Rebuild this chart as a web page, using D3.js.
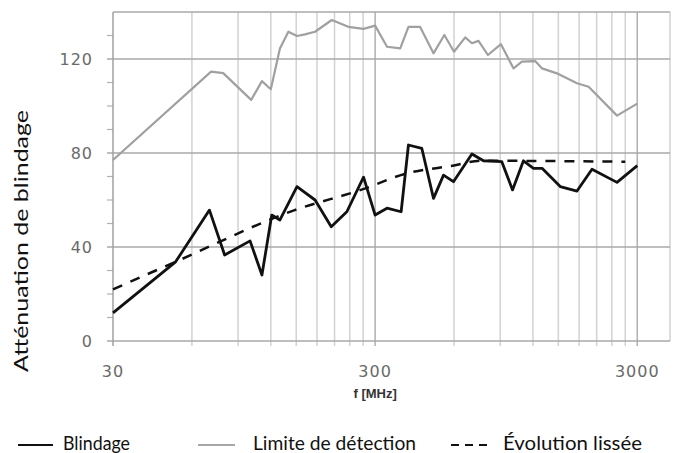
<!DOCTYPE html>
<html>
<head>
<meta charset="utf-8">
<script src="https://cdn.jsdelivr.net/npm/d3@7"></script>
<style>
  body { margin: 0; background: #fff; }
  svg { display: block; }
</style>
</head>
<body>
<div id="chart"></div>
<script>
// Frequencies (MHz) and values (dB)
var shieldFreq = [30, 52, 70, 80, 100, 111, 121, 130, 151, 177, 204, 234, 271, 300, 333, 377, 402, 452, 501, 547, 597, 702, 777, 913, 1003, 1104, 1206, 1300, 1525, 1767, 2016, 2511, 3000];
var shieldVal = [12, 33.7, 55.7, 36.6, 42.6, 28.1, 53.6, 51.5, 65.7, 60, 48.6, 55, 69.7, 53.6, 56.5, 55, 83.4, 82, 60.7, 70.6, 67.8, 79.6, 76.7, 76.3, 64.3, 76.7, 73.5, 73.5, 65.7, 63.8, 73.1, 67.5, 74.6];

var limitFreq = [30, 71, 79, 101, 111, 120, 130, 140, 151, 162, 177, 205, 237, 271, 300, 333, 374, 402, 445, 501, 551, 600, 662, 702, 744, 808, 906, 1012, 1089, 1224, 1300, 1481, 1767, 1957, 2511, 3000];
var limitVal = [77, 114.6, 114, 102.6, 110.6, 107.1, 124.5, 131.6, 129.8, 130.5, 131.6, 136.6, 133.7, 132.8, 134.2, 125.2, 124.5, 133.7, 133.7, 122.4, 130.2, 123.1, 129.2, 126.7, 127.7, 121.7, 126.3, 116, 118.9, 119.1, 116, 113.9, 109.7, 108.2, 95.9, 101];

var trendFreq = [30, 52, 148, 268, 395, 585, 764, 2700];
var trendVal = [22, 33.7, 55.7, 64.5, 71.3, 74.5, 76.7, 76.3];

var xTickLabels = [30, 300, 3000];
var yTickLabels = [0, 40, 80, 120];
var legendLabels = ["Blindage", "Limite de détection", "Évolution lissée"];

var width = 680, height = 453;
var margin = {top: 12, right: 10, bottom: 112, left: 113};

var svg = d3.select("#chart")
  .append("svg")
  .attr("width", width)
  .attr("height", height);

var x = d3.scaleLog().domain([30, 4000]).range([margin.left, width - margin.right]);
var y = d3.scaleLinear().domain([0, 140]).range([height - margin.bottom, margin.top]);

// Grid
var xGrid = d3.range(60, 300, 30).concat(d3.range(600, 3000, 300));
var yMinor = d3.range(10, 140, 10).filter(d => d % 40 != 0);

var grid = svg.append("g");
grid.selectAll(".vminor")
  .data(xGrid)
  .enter().append("line")
  .attr("x1", d => x(d)).attr("x2", d => x(d))
  .attr("y1", y(140)).attr("y2", y(0) + 5)
  .attr("stroke", "#d2d2d2")
  .attr("stroke-width", 1.5);

grid.selectAll(".vmajor")
  .data([300, 3000])
  .enter().append("line")
  .attr("x1", d => x(d)).attr("x2", d => x(d))
  .attr("y1", y(140)).attr("y2", y(0) + 5)
  .attr("stroke", "#b0b0b0")
  .attr("stroke-width", 1.5);

// right border
grid.append("line")
  .attr("x1", x(4000)).attr("x2", x(4000))
  .attr("y1", y(140)).attr("y2", y(0))
  .attr("stroke", "#d2d2d2")
  .attr("stroke-width", 1.5);

grid.selectAll(".hmajor")
  .data(yTickLabels)
  .enter().append("line")
  .attr("x1", x(30) - 6).attr("x2", x(4000))
  .attr("y1", d => y(d)).attr("y2", d => y(d))
  .attr("stroke", "#a8a8a8")
  .attr("stroke-width", 1.5);

grid.append("line")
  .attr("x1", x(30)).attr("x2", x(4000))
  .attr("y1", y(140)).attr("y2", y(140))
  .attr("stroke", "#a8a8a8")
  .attr("stroke-width", 1.5);

grid.selectAll(".yminor")
  .data(yMinor)
  .enter().append("line")
  .attr("x1", x(30) - 6).attr("x2", x(30))
  .attr("y1", d => y(d)).attr("y2", d => y(d))
  .attr("stroke", "#b0b0b0")
  .attr("stroke-width", 1.2);

// y axis line
grid.append("line")
  .attr("x1", x(30)).attr("x2", x(30))
  .attr("y1", y(140)).attr("y2", y(0) + 5)
  .attr("stroke", "#a0a0a0")
  .attr("stroke-width", 1.5);

// Tick labels
svg.selectAll(".ylab")
  .data(yTickLabels)
  .enter().append("text")
  .attr("x", 93)
  .attr("y", d => y(d))
  .attr("dy", "0.36em")
  .attr("text-anchor", "end")
  .attr("font-family", "DejaVu Sans")
  .attr("font-size", 16)
  .attr("letter-spacing", 1)
  .attr("fill", "#6a6a6a")
  .text(d => d);

svg.selectAll(".xlab")
  .data(xTickLabels)
  .enter().append("text")
  .attr("x", d => x(d))
  .attr("y", 377)
  .attr("text-anchor", "middle")
  .attr("font-family", "DejaVu Sans")
  .attr("font-size", 16)
  .attr("letter-spacing", 1)
  .attr("fill", "#6a6a6a")
  .text(d => d);

svg.append("text")
  .attr("x", x(300))
  .attr("y", 398)
  .attr("text-anchor", "middle")
  .attr("font-family", "Liberation Sans")
  .attr("font-weight", "bold")
  .attr("font-size", 13)
  .attr("fill", "#333")
  .text("f [MHz]");

svg.append("text")
  .attr("transform", "translate(28,372) rotate(-90)")
  .attr("text-anchor", "start")
  .attr("font-family", "Lato")
  .attr("font-size", 20)
  .attr("textLength", 262)
  .attr("lengthAdjust", "spacingAndGlyphs")
  .attr("fill", "#111")
  .text("Atténuation de blindage");

// Series
var line = d3.line()
  .x(d => x(d[0]))
  .y(d => y(d[1]));

svg.append("path")
  .attr("fill", "none")
  .attr("stroke", "#a0a0a0")
  .attr("stroke-width", 2.2)
  .attr("stroke-linejoin", "round")
  .attr("d", line(d3.zip(limitFreq, limitVal)));

svg.append("path")
  .attr("fill", "none")
  .attr("stroke", "#111")
  .attr("stroke-width", 2.5)
  .attr("stroke-dasharray", "10,9")
  .attr("d", line.curve(d3.curveMonotoneX)(d3.zip(trendFreq, trendVal)));

line.curve(d3.curveLinear);
svg.append("path")
  .attr("fill", "none")
  .attr("stroke", "#111")
  .attr("stroke-width", 2.8)
  .attr("stroke-linejoin", "round")
  .attr("d", line(d3.zip(shieldFreq, shieldVal)));

// Legend
var legendX = [18, 198, 451];
var legendStroke = ["#111", "#8a8a8a", "#111"];
var legendDash = [null, null, "8,6"];
var legendW = [35, 37, 39];
var legendTextX = [63, 253, 503];
var legendTextW = [67, 163, 139];

var legend = svg.selectAll(".legend")
  .data(legendLabels)
  .enter().append("g");

legend.append("line")
  .attr("x1", (d, i) => legendX[i]).attr("x2", (d, i) => legendX[i] + legendW[i])
  .attr("y1", 445).attr("y2", 445)
  .attr("stroke", (d, i) => legendStroke[i])
  .attr("stroke-width", (d, i) => i == 1 ? 1.6 : 2.2)
  .attr("stroke-dasharray", (d, i) => legendDash[i]);

legend.append("text")
  .attr("x", (d, i) => legendTextX[i])
  .attr("y", 450)
  .attr("font-family", "Lato")
  .attr("font-size", 18.5)
  .attr("textLength", (d, i) => legendTextW[i])
  .attr("lengthAdjust", "spacingAndGlyphs")
  .attr("fill", "#111")
  .text(d => d);
</script>
</body>
</html>
